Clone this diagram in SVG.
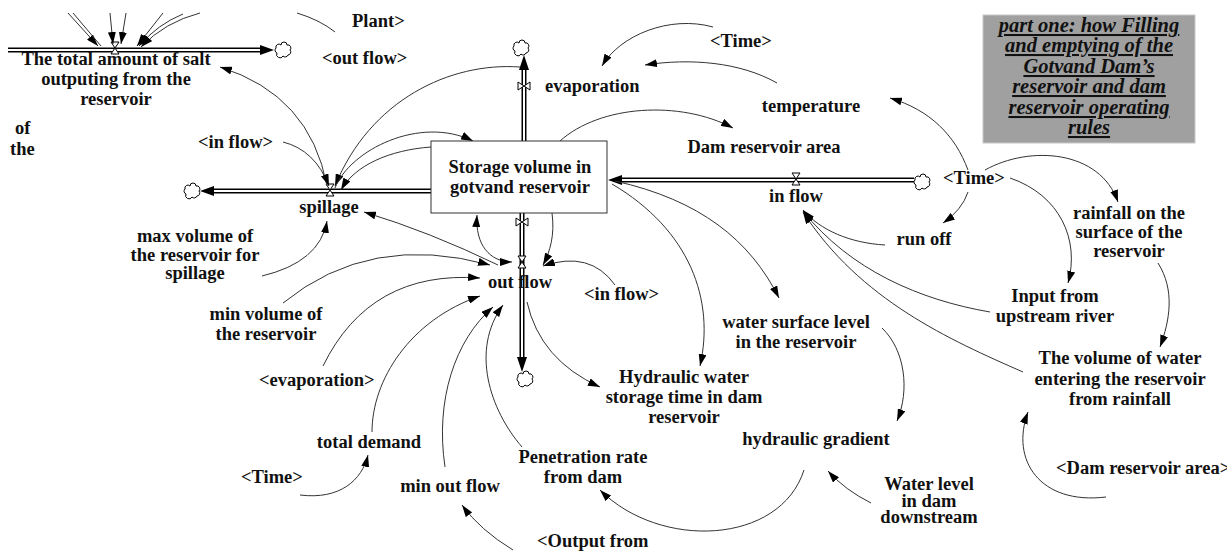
<svg xmlns="http://www.w3.org/2000/svg" width="1227" height="551" viewBox="0 0 1227 551">
<defs>
<style>
text{font-family:"Liberation Serif","Times New Roman",serif;font-weight:bold;font-size:18.5px;fill:#111;text-anchor:middle}
.l{text-anchor:start}
.t{font-style:italic;font-size:20.5px;text-decoration:underline}
.c{fill:none;stroke:#333;stroke-width:1}
.pipeo{fill:none;stroke:#000;stroke-width:5}
.pipei{fill:none;stroke:#fff;stroke-width:2}
.cloud{fill:#fff;stroke:#000;stroke-width:1}
.valve{fill:#fff;stroke:#000;stroke-width:1}
</style>
<marker id="ah" viewBox="0 0 12 8" refX="12" refY="4" markerWidth="12" markerHeight="8" markerUnits="userSpaceOnUse" orient="auto-start-reverse"><path d="M0,0 L12,4 L0,8 z" fill="#000"/></marker>
<marker id="pa" viewBox="0 0 14 10" refX="14" refY="5" markerWidth="14" markerHeight="10" markerUnits="userSpaceOnUse" orient="auto"><path d="M0,0 L14,5 L0,10 z" fill="#000"/></marker>
<symbol id="cl" viewBox="-8 -7 16 14" overflow="visible"><path class="cloud" d="M-6,3 a3,3 0 0 1 -1,-5 a3,3 0 0 1 5,-3 a3,3 0 0 1 6,0 a3,3 0 0 1 3,5 a3,3 0 0 1 -2,5 a3,3 0 0 1 -5,1 a3,3 0 0 1 -6,-3z"/></symbol>
<symbol id="hg" viewBox="-5 -7 10 14" overflow="visible"><path class="valve" d="M-4,-6 L4,-6 L-4,6 L4,6 Z"/></symbol>
<symbol id="bt" viewBox="-7 -5 14 10" overflow="visible"><path class="valve" d="M-6,-4 L-6,4 L6,-4 L6,4 Z"/></symbol>
</defs>
<rect width="1227" height="551" fill="#fff"/>

<g id="pipes">
<path class="pipeo" d="M8,50 H262"/><path class="pipei" d="M8,50 H262"/>
<path d="M260,45 L274,50 L260,55 z" fill="#000"/>
<use href="#cl" x="275" y="43" width="16" height="14"/>
<path class="pipeo" d="M431,191 H212"/><path class="pipei" d="M431,191 H212"/>
<path d="M214,186 L200,191 L214,196 z" fill="#000"/>
<use href="#cl" x="184" y="184" width="16" height="14"/>
<path class="pipeo" d="M524,141 V68"/><path class="pipei" d="M524,141 V68"/>
<path d="M519,70 L524,55 L529,70 z" fill="#000"/>
<use href="#cl" x="513" y="41" width="16" height="14"/>
<path class="pipeo" d="M914,180 H621"/><path class="pipei" d="M914,180 H621"/>
<path d="M622,175 L608,180 L622,185 z" fill="#000"/>
<use href="#cl" x="914" y="175" width="16" height="14"/>
<path class="pipeo" d="M522,213 V358"/><path class="pipei" d="M522,213 V358"/>
<path d="M517,357 L522,372 L527,357 z" fill="#000"/>
<use href="#cl" x="517" y="372" width="16" height="14"/>
<use href="#hg" x="110" y="41" width="10" height="14"/>
<use href="#hg" x="325" y="183" width="10" height="14"/>
<use href="#hg" x="791" y="172" width="10" height="14"/>
<use href="#hg" x="517" y="255" width="10" height="14"/>
<use href="#bt" x="517" y="81" width="14" height="10"/>
<use href="#bt" x="515" y="217" width="14" height="10"/>
</g>

<g id="connectors">
<path class="c" d="M68,13 L98,46" marker-end="url(#ah)"/>
<path class="c" d="M73,13 L101,46"/>
<path class="c" d="M110,13 L113,44" marker-end="url(#ah)"/>
<path class="c" d="M126,13 L121,44" marker-end="url(#ah)"/>
<path class="c" d="M163,13 L137,46" marker-end="url(#ah)"/>
<path class="c" d="M183,14 Q158,24 139,46" marker-end="url(#ah)"/>
<path class="c" d="M200,13 Q165,22 141,47" marker-end="url(#ah)"/>
<path class="c" d="M297,13 Q320,20 335,32"/>
<path class="c" d="M327,186 Q310,95 220,67" marker-end="url(#ah)"/>
<path class="c" d="M283,142 Q315,150 329,186" marker-end="url(#ah)"/>
<path class="c" d="M520,67 C450,62 370,100 335,186" marker-end="url(#ah)"/>
<path class="c" d="M335,188 C350,150 420,115 473,141" marker-end="url(#ah)"/>
<path class="c" d="M431,147 C390,150 355,165 341,190" marker-end="url(#ah)"/>
<path class="c" d="M262,276 Q320,262 327,221" marker-end="url(#ah)"/>
<path class="c" d="M498,265 Q430,232 364,212" marker-end="url(#ah)"/>
<path class="c" d="M283,303 Q370,232 490,265" marker-end="url(#ah)"/>
<path class="c" d="M323,366 Q370,270 480,278" marker-end="url(#ah)"/>
<path class="c" d="M372,432 C372,380 410,320 480,296" marker-end="url(#ah)"/>
<path class="c" d="M445,467 C435,400 455,340 493,307" marker-end="url(#ah)"/>
<path class="c" d="M522,447 C490,410 470,350 503,305" marker-end="url(#ah)"/>
<path class="c" d="M477,215 C475,245 490,262 512,262" marker-start="url(#ah)" marker-end="url(#ah)"/>
<path class="c" d="M552,213 C555,235 550,252 543,265" marker-end="url(#ah)"/>
<path class="c" d="M615,285 Q590,250 543,266" marker-end="url(#ah)"/>
<path class="c" d="M527,302 Q540,360 600,387" marker-end="url(#ah)"/>
<path class="c" d="M612,184 C690,230 715,300 700,366" marker-end="url(#ah)"/>
<path class="c" d="M615,181 C700,200 750,240 779,298" marker-end="url(#ah)"/>
<path class="c" d="M560,141 C600,105 680,100 733,128" marker-end="url(#ah)"/>
<path class="c" d="M713,27 C670,15 620,35 602,66" marker-end="url(#ah)"/>
<path class="c" d="M777,83 C740,62 690,58 645,65" marker-end="url(#ah)"/>
<path class="c" d="M968,170 C955,135 930,110 890,98" marker-end="url(#ah)"/>
<path class="c" d="M968,192 Q962,210 943,223" marker-end="url(#ah)"/>
<path class="c" d="M985,170 C1030,145 1100,150 1118,202" marker-end="url(#ah)"/>
<path class="c" d="M1010,178 C1060,195 1080,240 1068,283" marker-end="url(#ah)"/>
<path class="c" d="M1158,263 C1175,290 1170,320 1160,347" marker-end="url(#ah)"/>
<path class="c" d="M885,245 C850,243 820,230 803,210" marker-end="url(#ah)"/>
<path class="c" d="M990,312 C920,300 850,270 803,211" marker-end="url(#ah)"/>
<path class="c" d="M1023,372 C950,340 860,300 803,212" marker-end="url(#ah)"/>
<path class="c" d="M882,328 C905,350 910,390 897,421" marker-end="url(#ah)"/>
<path class="c" d="M871,503 Q845,490 828,471" marker-end="url(#ah)"/>
<path class="c" d="M804,470 C780,545 660,550 600,490" marker-end="url(#ah)"/>
<path class="c" d="M1106,497 C1040,505 1010,460 1028,412" marker-end="url(#ah)"/>
<path class="c" d="M513,550 Q480,530 462,505" marker-end="url(#ah)"/>
<path class="c" d="M300,495 C340,500 362,480 368,455" marker-end="url(#ah)"/>
</g>

<g id="stock">
<rect x="431" y="141" width="176" height="72" fill="#fff" stroke="#333" stroke-width="1"/>
<text x="520" y="173">Storage volume in</text>
<text x="520" y="193">gotvand reservoir</text>
</g>

<g id="salt"><text x="116" y="65">The total amount of salt</text><text x="116" y="85">outputing from the</text><text x="116" y="105">reservoir</text></g>
<g id="plant"><text class="l" x="352" y="27">Plant&gt;</text></g>
<g id="outflow-shadow"><text class="l" x="322" y="64">&lt;out flow&gt;</text></g>
<g id="of-the"><text class="l" x="15" y="134">of</text><text class="l" x="10" y="155">the</text></g>
<g id="inflow-shadow1"><text class="l" x="198" y="148">&lt;in flow&gt;</text></g>
<g id="spillage"><text x="329" y="213">spillage</text></g>
<g id="maxvol"><text x="195" y="242">max volume of</text><text x="195" y="261">the reservoir for</text><text x="195" y="279">spillage</text></g>
<g id="minvol"><text x="266" y="320">min volume of</text><text x="266" y="340">the reservoir</text></g>
<g id="evap-shadow"><text class="l" x="259" y="386">&lt;evaporation&gt;</text></g>
<g id="totaldemand"><text x="369" y="448">total demand</text></g>
<g id="time-shadow3"><text class="l" x="241" y="483">&lt;Time&gt;</text></g>
<g id="minoutflow"><text x="450" y="492">min out flow</text></g>
<g id="penetration"><text x="583" y="463">Penetration rate</text><text x="583" y="483">from dam</text></g>
<g id="output-shadow"><text class="l" x="537" y="547">&lt;Output from</text></g>
<g id="outflow"><text x="520" y="288">out flow</text></g>
<g id="inflow-shadow2"><text class="l" x="584" y="300">&lt;in flow&gt;</text></g>
<g id="evaporation"><text class="l" x="545" y="92">evaporation</text></g>
<g id="time-shadow1"><text class="l" x="710" y="47">&lt;Time&gt;</text></g>
<g id="temperature"><text x="811" y="112">temperature</text></g>
<g id="damarea"><text x="764" y="153">Dam reservoir area</text></g>
<g id="inflow"><text x="796" y="202">in flow</text></g>
<g id="time-shadow2"><text class="l" x="943" y="184">&lt;Time&gt;</text></g>
<g id="runoff"><text x="924" y="245">run off</text></g>
<g id="rainfall"><text x="1129" y="219">rainfall on the</text><text x="1129" y="238">surface of the</text><text x="1129" y="257">reservoir</text></g>
<g id="input"><text x="1055" y="302">Input from</text><text x="1055" y="322">upstream river</text></g>
<g id="volrain"><text x="1120" y="364">The volume of water</text><text x="1120" y="385">entering the reservoir</text><text x="1120" y="405">from rainfall</text></g>
<g id="wsl"><text x="796" y="328">water surface level</text><text x="796" y="348">in the reservoir</text></g>
<g id="hydtime"><text x="684" y="383">Hydraulic water</text><text x="684" y="403">storage time in dam</text><text x="684" y="423">reservoir</text></g>
<g id="hydgrad"><text x="816" y="445">hydraulic gradient</text></g>
<g id="wld"><text x="929" y="490">Water level</text><text x="929" y="507">in dam</text><text x="929" y="523">downstream</text></g>
<g id="damarea-shadow"><text class="l" x="1056" y="474">&lt;Dam reservoir area&gt;</text></g>

<g id="title">
<rect x="983" y="15" width="212" height="128" fill="#a0a0a0" stroke="#c8c8c8" stroke-width="1"/>
<text class="t" x="1089" y="32">part one: how Filling</text>
<text class="t" x="1089" y="52">and emptying of the</text>
<text class="t" x="1089" y="73">Gotvand Dam’s</text>
<text class="t" x="1089" y="93">reservoir and dam</text>
<text class="t" x="1089" y="114">reservoir operating</text>
<text class="t" x="1089" y="134">rules</text>
</g>
</svg>
